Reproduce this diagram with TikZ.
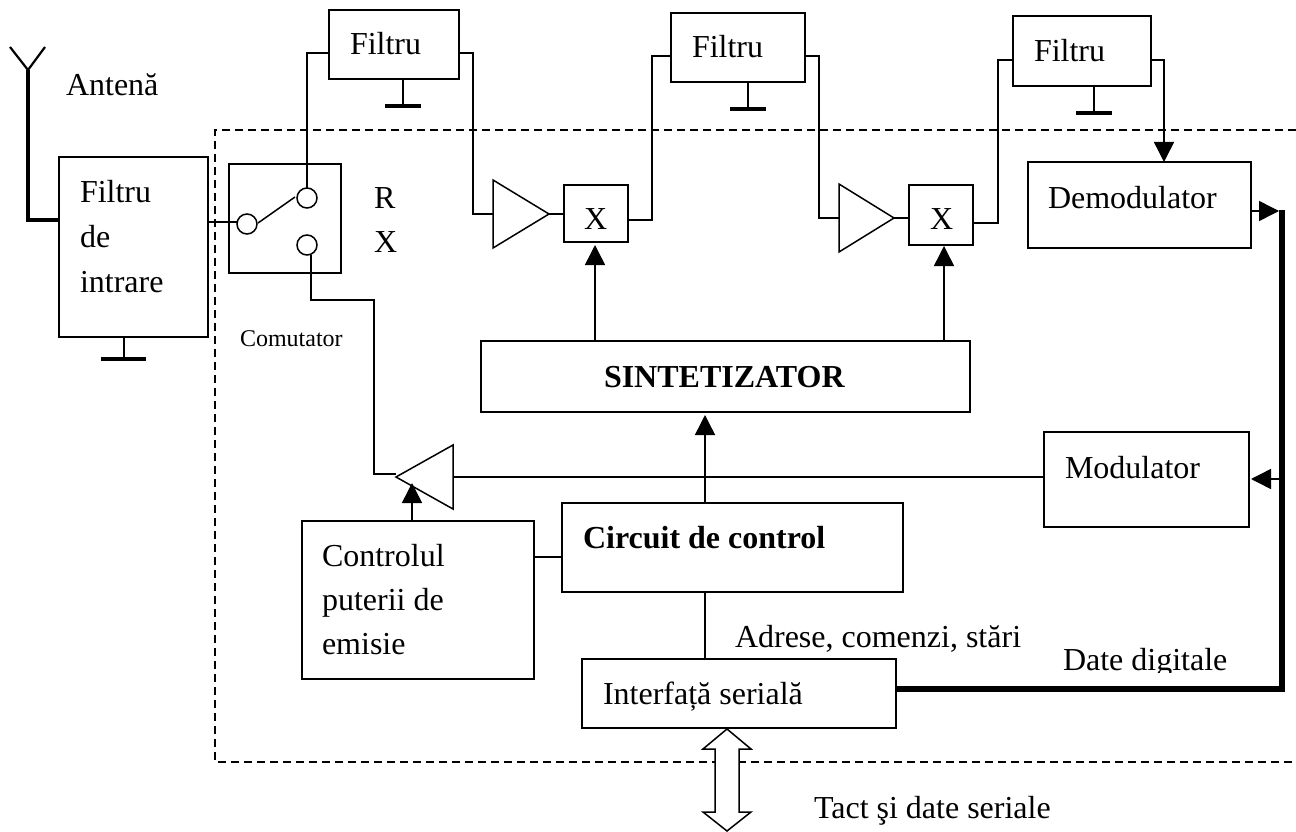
\documentclass[tikz,border=0pt]{standalone}
\usepackage{fontspec}
\setmainfont{Liberation Serif}
\usetikzlibrary{arrows.meta,shapes.geometric}
\tikzset{
  boxnode/.style={draw,line width=1.5pt,rectangle,inner sep=0pt,outer sep=0pt,fill=white},
  wire/.style={line width=1.5pt,line join=miter},
  arrowwire/.style={wire,-{Triangle[length=20pt,width=20pt]}},
  gndbar/.style={line width=3.5pt},
  heavy/.style={line width=5.5pt,line join=miter},
  lbl/.style={inner sep=0pt,outer sep=0pt,anchor=base west,font=\fontsize{32}{36}\selectfont},
  blbl/.style={lbl,font=\fontsize{32}{36}\selectfont\bfseries},
  contact/.style={draw,circle,line width=1.5pt,inner sep=0pt,minimum size=20pt,outer sep=0pt,fill=white},
  amp/.style={draw,isosceles triangle,isosceles triangle stretches,line width=1.5pt,inner sep=0pt,outer sep=0pt,fill=white,anchor=apex},
  dashbox/.style={line width=1.5pt,dash pattern=on 8pt off 5pt}
}
\newcommand{\bx}[5]{\node[boxnode,minimum width={#4-#2},minimum height={#5-#3}] (#1) at ({(#2+#4)/2},{(#3+#5)/2}) {};}
\begin{document}
\begin{tikzpicture}[x=1pt,y=-1pt]
\useasboundingbox (0,0) rectangle (1296,832);
\fill[white] (0,0) rectangle (1296,832);
% dashed enclosure
\coordinate (d1) at (1296,130);
\coordinate (d2) at (215,130);
\coordinate (d3) at (215,762);
\coordinate (d4) at (1296,762);
\draw[dashbox] (d1) -- (d2) -- (d3) -- (d4);
% boxes
\bx{inp}{59}{157}{208}{337}
\bx{sw}{229}{164}{341}{273}
\bx{f1}{329}{10}{459}{79}
\bx{f2}{671}{13}{805}{82}
\bx{f3}{1013}{16}{1151}{86}
\bx{x1}{564}{185}{628}{242}
\bx{x2}{909}{185}{973}{245}
\bx{dem}{1028}{162}{1251}{248}
\bx{syn}{481}{341}{970}{412}
\bx{mod}{1044}{432}{1249}{527}
\bx{ctl}{562}{503}{903}{592}
\bx{pwr}{302}{521}{534}{679}
\bx{ser}{582}{659}{896}{728}
% contacts
\node[contact] (c1) at (307,198) {};
\node[contact] (c2) at (307,245) {};
\node[contact] (c3) at (247,224) {};
% amplifiers
\node[amp,minimum width=68pt,minimum height=56pt] (a1) at (549,214) {};
\node[amp,minimum width=68pt,minimum height=55pt] (a2) at (894,218) {};
\node[amp,minimum width=64pt,minimum height=57pt,shape border rotate=180] (a3) at (396,477) {};
% bus arrow
\coordinate (b1) at (727,729);
\coordinate (b2) at (751,749);
\coordinate (b3) at (739,749);
\coordinate (b4) at (739,812);
\coordinate (b5) at (751,812);
\coordinate (b6) at (727,831);
\coordinate (b7) at (703,812);
\coordinate (b8) at (715,812);
\coordinate (b9) at (715,749);
\coordinate (b10) at (703,749);
\draw[fill=white,line width=1.5pt] (b1) -- (b2) -- (b3) -- (b4) -- (b5) -- (b6) -- (b7) -- (b8) -- (b9) -- (b10) -- cycle;
% antenna
\coordinate (ant) at (28,70);
\coordinate (antL) at (10,47);
\coordinate (antR) at (45,47);
\coordinate (antC) at (28,220);
\draw[line width=2.2pt] (antL) -- (ant) -- (antR);
\draw[line width=3.5pt,line join=miter] (ant) -- (antC) -- (inp.west |- antC);
% ground symbols
\coordinate (g0) at (124,359);
\coordinate (g0a) at (101,359);
\coordinate (g0b) at (146,359);
\draw[wire] (inp.south -| g0) -- (g0);
\draw[gndbar] (g0a) -- (g0b);
\coordinate (g1) at (403,106);
\coordinate (g1a) at (385,106);
\coordinate (g1b) at (421,106);
\draw[wire] (f1.south -| g1) -- (g1);
\draw[gndbar] (g1a) -- (g1b);
\coordinate (g2) at (748,109);
\coordinate (g2a) at (730,109);
\coordinate (g2b) at (766,109);
\draw[wire] (f2.south -| g2) -- (g2);
\draw[gndbar] (g2a) -- (g2b);
\coordinate (g3) at (1094,113);
\coordinate (g3a) at (1076,113);
\coordinate (g3b) at (1112,113);
\draw[wire] (f3.south -| g3) -- (g3);
\draw[gndbar] (g3a) -- (g3b);
% switch
\coordinate (swi) at (208,222);
\draw[wire] (inp.east |- swi) -- (c3.west |- swi);
\coordinate (lev1) at (258,223);
\coordinate (lev2) at (295,197);
\draw[wire] (lev1) -- (lev2);
\coordinate (p1) at (307,53);
\draw[wire] (c1.north) -- (p1) -- (f1.west |- p1);
% signal chain
\coordinate (p2) at (473,53);
\coordinate (p3) at (473,214);
\draw[wire] (f1.east |- p2) -- (p2) -- (p3) -- (a1.west |- p3);
\draw[wire] (a1.apex) -- (x1.west |- a1.apex);
\coordinate (p4) at (652,220);
\coordinate (p5) at (652,56);
\draw[wire] (x1.east |- p4) -- (p4) -- (p5) -- (f2.west |- p5);
\coordinate (p6) at (819,56);
\coordinate (p7) at (819,218);
\draw[wire] (f2.east |- p6) -- (p6) -- (p7) -- (a2.west |- p7);
\draw[wire] (a2.apex) -- (x2.west |- a2.apex);
\coordinate (p8) at (998,223);
\coordinate (p9) at (998,60);
\draw[wire] (x2.east |- p8) -- (p8) -- (p9) -- (f3.west |- p9);
\coordinate (p10) at (1164,60);
\draw[arrowwire] (f3.east |- p10) -- (p10) -- (dem.north -| p10);
% synthesizer feeds
\coordinate (s1) at (595,341);
\coordinate (s2) at (944,341);
\draw[arrowwire,shorten >=3pt] (syn.north -| s1) -- (x1.south -| s1);
\draw[arrowwire,shorten >=1pt] (syn.north -| s2) -- (x2.south -| s2);
\coordinate (s3) at (705,503);
\draw[arrowwire,shorten >=3pt] (ctl.north -| s3) -- (syn.south -| s3);
% transmit path
\coordinate (t0) at (453,477);
\draw[wire] (mod.west |- t0) -- (t0);
\coordinate (t1) at (374,474);
\coordinate (t2) at (374,300);
\coordinate (t3) at (311,300);
\coordinate (t4) at (396,474);
\draw[wire] (t4) -- (t1) -- (t2) -- (t3) -- (c2.south -| t3);
\coordinate (t5) at (412,521);
\coordinate (t6) at (412,483);
\draw[arrowwire] (pwr.north -| t5) -- (t6);
\coordinate (t7) at (534,557);
\draw[wire] (pwr.east |- t7) -- (ctl.west |- t7);
\draw[wire] (ctl.south -| s3) -- (ser.north -| s3);
% heavy data line
\coordinate (h1) at (1282,689);
\coordinate (h2) at (1282,210);
\draw[heavy] (ser.east |- h1) -- (h1) -- (h2);
\coordinate (h3) at (1282,479);
\draw[arrowwire,shorten >=2pt] (h3) -- (mod.east |- h3);
\coordinate (h4) at (1279,211);
\draw[arrowwire] (dem.east |- h4) -- (h4);
% labels
\node[lbl] (t_ant) at (66,96) {Antenă};
\node[lbl] (t_f0) at (80,202) {Filtru};
\node[lbl] (t_de) at (80,247) {de};
\node[lbl] (t_in) at (80,292) {intrare};
\node[lbl] (t_r) at (374,208) {R};
\node[lbl] (t_x) at (374,252) {X};
\node[lbl,font=\fontsize{24}{28}\selectfont] (t_com) at (240,346) {Comutator};
\node[lbl] (t_f1) at (350,55) {Filtru};
\node[lbl] (t_f2) at (692,58) {Filtru};
\node[lbl] (t_f3) at (1034,62) {Filtru};
\node[lbl] (t_x1) at (584,229) {X};
\node[lbl] (t_x2) at (930,229) {X};
\node[lbl] (t_dem) at (1048,208) {Demodulator};
\node[blbl] (t_syn) at (604,387) {SINTETIZATOR};
\node[lbl] (t_mod) at (1065,478) {Modulator};
\node[blbl] (t_ctl) at (583,548) {Circuit de control};
\node[lbl] (t_p1) at (322,566) {Controlul};
\node[lbl] (t_p2) at (322,610) {puterii de};
\node[lbl] (t_p3) at (322,654) {emisie};
\node[lbl] (t_adr) at (735,647) {Adrese, comenzi, stări};
\node[lbl] (t_ser) at (603,704) {Interfață serială};
\begin{scope}
\clip (1050,640) rectangle (1270,672);
\node[lbl] (t_dat) at (1063,670) {Date digitale};
\end{scope}
\node[lbl] (t_tact) at (814,818) {Tact şi date seriale};
\end{tikzpicture}
\end{document}
